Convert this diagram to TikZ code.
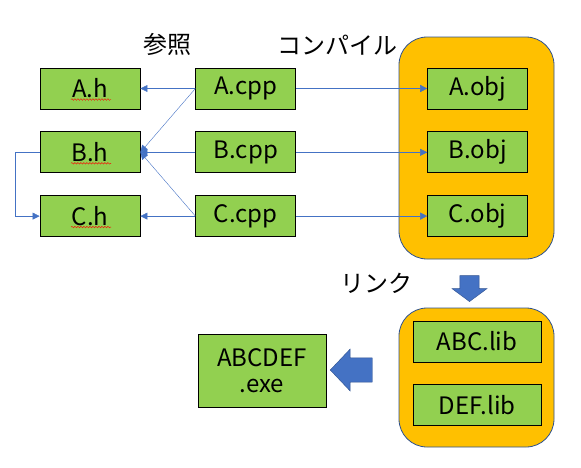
\documentclass[tikz,border=0pt]{standalone}
\usepackage{fontspec}
\setmainfont{Noto Sans CJK JP}
\usetikzlibrary{arrows.meta,positioning,shapes.arrows,decorations.pathmorphing}
\definecolor{leaf}{HTML}{92D050}
\definecolor{amber}{HTML}{FFC000}
\definecolor{link}{HTML}{4472C4}
\definecolor{edge}{HTML}{2F528F}
\tikzset{
    >={Triangle[length=7pt,width=7pt]},
    x=1pt, y=1pt,
    font=\fontsize{24}{28}\selectfont,
    file/.style={rectangle,draw,thick,fill=leaf,align=center,
        minimum width=100pt,minimum height=41pt,inner sep=0pt},
    lib/.style={file,minimum width=128pt},
    group/.style={draw=edge,thick,fill=amber,rounded corners=28pt},
    dep/.style={->,draw=link,thin},
    squiggle/.style={red,thin,decorate,
        decoration={snake,amplitude=0.8pt,segment length=3pt}},
    bigarrow/.style={single arrow,draw=edge,fill=link,thin,
        single arrow head indent=0pt,inner sep=0pt}
}
\begin{document}
\begin{tikzpicture}
    \useasboundingbox (0,0) rectangle (581,-467);
    % containers
    \node[group,minimum width=155pt,minimum height=222pt] (objs) at (476.5,-148) {};
    \node[group,minimum width=155pt,minimum height=139pt] (libs) at (476.5,-377.5) {};
    % headers and sources
    \node[file] (Ah) at (90,-88.5) {A.h};
    \node[file] (Bh) [below = 22pt of Ah] {B.h};
    \node[file] (Ch) [below = 22pt of Bh] {C.h};
    \node[file] (Acpp) [right = 55pt of Ah] {A.cpp};
    \node[file] (Bcpp) [right = 55pt of Bh] {B.cpp};
    \node[file] (Ccpp) [right = 55pt of Ch] {C.cpp};
    % objects
    \node[file] (Aobj) [right = 131pt of Acpp] {A.obj};
    \node[file] (Bobj) [right = 131pt of Bcpp] {B.obj};
    \node[file] (Cobj) [right = 131pt of Ccpp] {C.obj};
    % libraries and executable
    \node[lib] (ABClib) at (477,-341.5) {ABC.lib};
    \node[lib] (DEFlib) [below = 22pt of ABClib] {DEF.lib};
    \node[lib,minimum height=73pt] (exe) at (262,-370.5) {ABCDEF\\[-2pt].exe};
    % labels
    \node (ref) at (167,-44) {参照};
    \node (compile) at (337,-45) {コンパイル};
    \node (linking) at (376,-283) {リンク};
    % block arrows
    \node[bigarrow,rotate=-90,minimum height=26pt,minimum width=35pt,
        inner ysep=8.5pt,single arrow tip angle=107] (down) at (469.5,-285) {};
    \node[bigarrow,rotate=180,minimum height=42pt,minimum width=42pt,
        inner ysep=9.5pt,single arrow tip angle=93] (left) at (357,-370) {};
    % spelling marks
    \foreach \n in {Ah,Bh,Ch}
        \draw[squiggle] ([xshift=-19pt,yshift=-11pt]\n.center) -- ([xshift=21pt,yshift=-11pt]\n.center);
    % dependencies
    \path
        (Acpp.west) edge [dep] (Ah.east)
        (Bcpp.west) edge [dep] (Bh.east)
        (Ccpp.west) edge [dep] (Ch.east)
        (Acpp.west) edge [dep] (Bh.east)
        (Ccpp.west) edge [dep] (Bh.east)
        (Acpp.east) edge [dep] (Aobj.west)
        (Bcpp.east) edge [dep] (Bobj.west)
        (Ccpp.east) edge [dep] (Cobj.west)
        ;
    \draw[dep] (Bh.west) -- ++(-24,0) |- (Ch.west);
\end{tikzpicture}
\end{document}
